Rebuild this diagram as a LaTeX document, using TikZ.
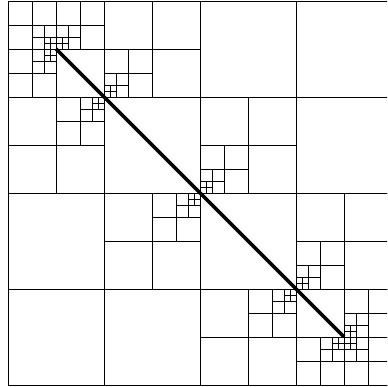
\documentclass[tikz,border=0pt]{standalone}
\usetikzlibrary{calc}
\begin{document}
\begin{tikzpicture}[cell/.style={line width=0.5pt}, seg/.style={line width=2.1pt}]
    \clip (-0.1667,-0.0417) rectangle (7.8958,8.0208);
    \coordinate (a) at (1,7);
    \coordinate (k1) at (2,6);
    \coordinate (k2) at (4,4);
    \coordinate (k3) at (6,2);
    \coordinate (b) at (7,1);

    \draw[cell, step=2] (0,0) grid (8,8);
    \draw[cell, step=1] (0,6) grid (4,8);
    \draw[cell, step=1] (0,4) grid (2,6);
    \draw[cell, step=1] (4,4) grid (6,6);
    \draw[cell, step=1] (2,2) grid (4,4);
    \draw[cell, step=1] (6,2) grid (8,4);
    \draw[cell, step=1] (4,0) grid (8,2);

    \foreach \s/\h in {1/0.5, 0.5/0.25, 0.25/0.125} {
        \draw[cell, step=\h] ($(a)+(-\s,0)$) grid +(\s,\s);
        \draw[cell, step=\h] (a) grid +(\s,\s);
        \draw[cell, step=\h] ($(a)+(-\s,-\s)$) grid (a);
        \draw[cell, step=\h] (k1) grid +(\s,\s);
        \draw[cell, step=\h] ($(k1)+(-\s,-\s)$) grid (k1);
        \draw[cell, step=\h] (k2) grid +(\s,\s);
        \draw[cell, step=\h] ($(k2)+(-\s,-\s)$) grid (k2);
        \draw[cell, step=\h] (k3) grid +(\s,\s);
        \draw[cell, step=\h] ($(k3)+(-\s,-\s)$) grid (k3);
        \draw[cell, step=\h] (b) grid +(\s,\s);
        \draw[cell, step=\h] ($(b)+(-\s,-\s)$) grid (b);
        \draw[cell, step=\h] ($(b)+(0,-\s)$) grid +(\s,\s);
    }

    \draw[seg] (a) -- (b);
\end{tikzpicture}
\end{document}
